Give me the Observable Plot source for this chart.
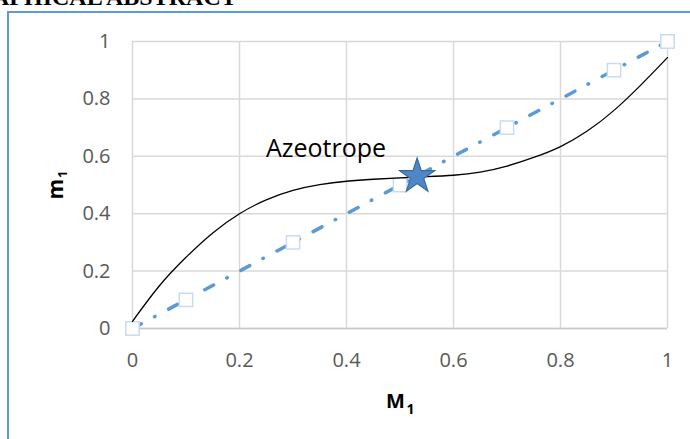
<!DOCTYPE html>
<html><head><meta charset="utf-8">
<script src="https://cdn.jsdelivr.net/npm/d3@7"></script>
<script src="https://cdn.jsdelivr.net/npm/@observablehq/plot@0.6"></script>
<style>
html,body{margin:0;padding:0;background:#fff;overflow:hidden}
#wrap{position:relative;width:690px;height:439px;overflow:hidden}
#chart{position:absolute;left:0;top:0}
#frame{position:absolute;left:7px;top:11px;right:-5px;bottom:-5px;border-left:2px solid #5b9bd5;border-top:2px solid #5b9bd5;pointer-events:none}
#title{position:absolute;left:-44px;top:-15px;font:bold 24px "Liberation Serif","Times New Roman",serif;line-height:24px;white-space:nowrap;color:#000}
</style></head><body>
<div id="wrap"><div id="chart"></div><div id="frame"></div><div id="title">GRAPHICAL ABSTRACT</div></div>
<script>
// model curve m1 vs M1
const curveM = [0, 0.05, 0.1, 0.15, 0.2, 0.25, 0.3, 0.35, 0.4, 0.45, 0.5, 0.55, 0.6, 0.65, 0.7, 0.75, 0.8, 0.85, 0.9, 0.95, 1];
const curvem = [0.025, 0.148, 0.248, 0.333, 0.4, 0.448, 0.481, 0.501, 0.513, 0.52, 0.525, 0.529, 0.534, 0.545, 0.566, 0.596, 0.634, 0.688, 0.76, 0.848, 0.944];
// diagonal y = x with markers
const diagM = [0, 0.1, 0.3, 0.5, 0.7, 0.9, 1];
const diagm = [0, 0.1, 0.3, 0.5, 0.7, 0.9, 1];
// azeotrope point
const azeoM = [0.532];
const azeom = [0.53];
const azeoLabel = ["Azeotrope"];
// ticks and labels
const xTicks = [0, 0.2, 0.4, 0.6, 0.8, 1];
const yTicks = [0, 0.2, 0.4, 0.6, 0.8, 1];
const xLabel = ["M", "1"];
const yLabel = ["m", "1"];

const curve = curveM.map((M, i) => ({M, m: curvem[i]}));
const diag = diagM.map((M, i) => ({M, m: diagm[i]}));
const azeo = azeoM.map((M, i) => ({M, m: azeom[i], label: azeoLabel[i]}));
const fmt = d3.format("~g");

const plot = Plot.plot({
  width: 690, height: 439,
  marginLeft: 132, marginRight: 23, marginTop: 41, marginBottom: 111,
  style: {fontFamily: '"Open Sans", sans-serif', background: "transparent", overflow: "visible"},
  x: {domain: [0, 1]},
  y: {domain: [0, 1]},
  marks: [
    Plot.ruleX(xTicks, {stroke: "#d9d9d9", strokeWidth: 1.5}),
    Plot.ruleY(yTicks, {stroke: "#d9d9d9", strokeWidth: 1.5}),
    Plot.ruleY([0], {stroke: "#c8c8c8", strokeWidth: 1.5}),
    Plot.axisX({ticks: xTicks, tickFormat: fmt, tickSize: 0, tickPadding: 24, fontSize: 20, color: "#595959", label: null}),
    Plot.axisY({ticks: yTicks, tickFormat: fmt, tickSize: 0, tickPadding: 22, fontSize: 20, color: "#595959", label: null}),
    Plot.line(diag, {x: "M", y: "m", stroke: "#5b9bd5", strokeWidth: 3.5, strokeDasharray: "10,15,0.5,15.5", strokeLinecap: "round"}),
    Plot.dot(diag, {x: "M", y: "m", symbol: "square", r: 7.5, fill: "white", stroke: "#c9dbf0", strokeWidth: 1.5}),
    Plot.line(curve, {x: "M", y: "m", stroke: "black", strokeWidth: 1.3, curve: "natural"}),
    Plot.dot(azeo, {x: "M", y: "m", symbol: "star", r: 11, fill: "#4f86c6", stroke: "#3a6a9e", strokeWidth: 1.2}),
    Plot.text(azeo, {x: "M", y: "m", text: "label", textAnchor: "end", dx: -31, dy: -27, fontSize: 25, fill: "black"}),
    Plot.text([xLabel[0]], {text: d => d, frameAnchor: "bottom", dx: -4.5, dy: 79, fontSize: 20, fontWeight: "bold", fill: "black"}),
    Plot.text([xLabel[1]], {text: d => d, frameAnchor: "bottom", dx: 10.5, dy: 85, fontSize: 14, fontWeight: "bold", fill: "black"}),
    Plot.text([yLabel[0]], {text: d => d, frameAnchor: "left", rotate: -90, dx: -76.5, dy: 14.5, fontSize: 21, fontWeight: "bold", fill: "black"}),
    Plot.text([yLabel[1]], {text: d => d, frameAnchor: "left", rotate: -90, dx: -69.5, dy: -7, fontSize: 13, fontWeight: "bold", fill: "black"})
  ]
});
document.getElementById("chart").appendChild(plot);
</script>
</body></html>
